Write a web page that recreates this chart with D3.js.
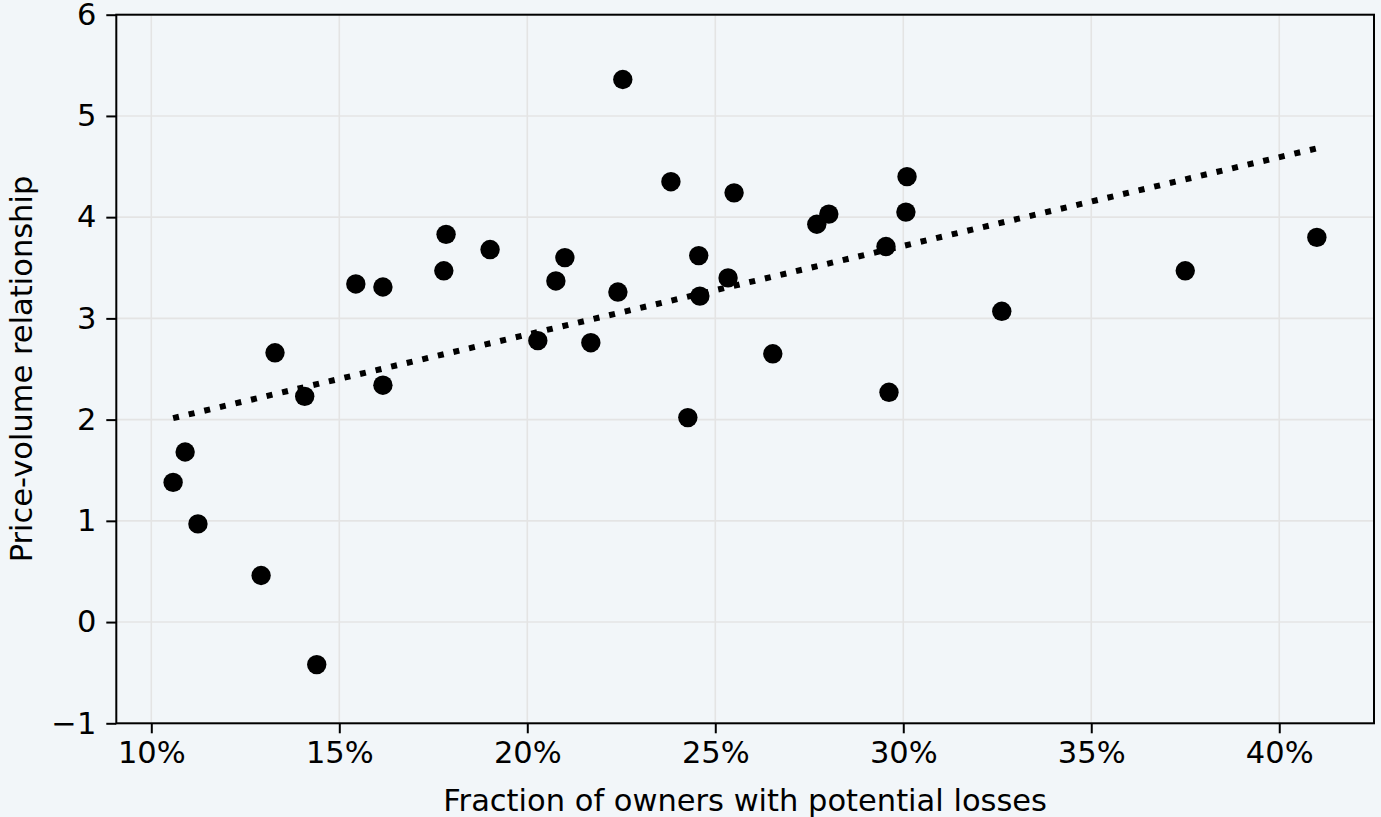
<!DOCTYPE html>
<html>
<head>
<meta charset="utf-8">
<script src="https://cdn.jsdelivr.net/npm/d3@7"></script>
<style>
  body { margin: 0; background: #f2f6f9; }
  text { font-family: "DejaVu Sans", sans-serif; fill: #000; }
</style>
</head>
<body>
<script>
// share of owners with potential losses (x) vs price-volume relationship (y)
var fracLoss = [0.1058, 0.1090, 0.1124, 0.1292, 0.1329, 0.1408, 0.1440, 0.1544, 0.1616, 0.1616,
                0.1778, 0.1784, 0.1901, 0.2028, 0.2076, 0.2100, 0.2169, 0.2241, 0.2254, 0.2382,
                0.2427, 0.2456, 0.2459, 0.2534, 0.2550, 0.2653, 0.2770, 0.2802, 0.2954, 0.2962,
                0.3007, 0.3010, 0.3262, 0.3750, 0.4100]
var priceVol = [1.38, 1.68, 0.97, 0.46, 2.66, 2.23, -0.42, 3.34, 3.31, 2.34,
                3.47, 3.83, 3.68, 2.78, 3.37, 3.60, 2.76, 3.26, 5.36, 4.35,
                2.02, 3.62, 3.22, 3.40, 4.24, 2.65, 3.93, 4.03, 3.71, 2.27,
                4.05, 4.40, 3.07, 3.47, 3.80]
// fitted trend line end points
var trendX = [0.1058, 0.4100]
var trendY = [2.015, 4.680]

var xTicks = [0.10, 0.15, 0.20, 0.25, 0.30, 0.35, 0.40]
var yTicks = [-1, 0, 1, 2, 3, 4, 5, 6]

var W = 1381, H = 817
var m = {left: 116.3, right: W - 1374, top: 14.7, bottom: H - 723.3}
var fs = "30.5px"

var svg = d3.select("body").append("svg")
  .attr("width", W)
  .attr("height", H)

var x = d3.scaleLinear().domain([0.09069, 0.4252]).range([m.left, W - m.right])
var y = d3.scaleLinear().domain([-1, 6]).range([H - m.bottom, m.top])

var g = svg.append("g")

// grid
g.selectAll("line.vg").data(xTicks).enter().append("line")
  .attr("x1", d => x(d)).attr("x2", d => x(d))
  .attr("y1", m.top).attr("y2", H - m.bottom)
  .attr("stroke", "#e4e4e4").attr("stroke-width", 1.6)
g.selectAll("line.hg").data(yTicks).enter().append("line")
  .attr("y1", d => y(d)).attr("y2", d => y(d))
  .attr("x1", m.left).attr("x2", W - m.right)
  .attr("stroke", "#e4e4e4").attr("stroke-width", 1.6)

// trend
g.append("path")
  .datum(d3.range(trendX.length))
  .attr("d", d3.line().x(i => x(trendX[i])).y(i => y(trendY[i])))
  .attr("fill", "none")
  .attr("stroke", "#000")
  .attr("stroke-width", 6)
  .attr("stroke-dasharray", "6 10")

// points
g.selectAll("circle").data(d3.range(fracLoss.length)).enter().append("circle")
  .attr("cx", i => x(fracLoss[i]))
  .attr("cy", i => y(priceVol[i]))
  .attr("r", 9.7)
  .style("fill", "#000")

// axes
svg.append("g")
  .attr("transform", `translate(0,${H - m.bottom})`)
  .call(d3.axisBottom(x).tickValues(xTicks).tickFormat(d3.format(".0%")).tickSizeOuter(0).tickSize(10).tickPadding(8))
svg.append("g")
  .attr("transform", `translate(${m.left},0)`)
  .call(d3.axisLeft(y).tickValues(yTicks).tickFormat(d3.format("d")).tickSizeOuter(0).tickSize(10).tickPadding(10))

svg.selectAll(".tick text").style("font-size", fs).style("font-family", "DejaVu Sans")
svg.selectAll(".tick line").attr("stroke-width", 2)
svg.selectAll(".domain").remove()

// frame
svg.append("rect")
  .attr("x", m.left).attr("y", m.top)
  .attr("width", W - m.right - m.left).attr("height", H - m.bottom - m.top)
  .attr("fill", "none").attr("stroke", "#000").attr("stroke-width", 2)

svg.append("text")
  .attr("x", (m.left + W - m.right) / 2)
  .attr("y", 811)
  .attr("text-anchor", "middle")
  .style("font-size", fs)
  .text("Fraction of owners with potential losses")

svg.append("text")
  .attr("transform", `translate(32,${(m.top + H - m.bottom) / 2}) rotate(-90)`)
  .attr("text-anchor", "middle")
  .style("font-size", fs)
  .text("Price-volume relationship")
</script>
</body>
</html>
